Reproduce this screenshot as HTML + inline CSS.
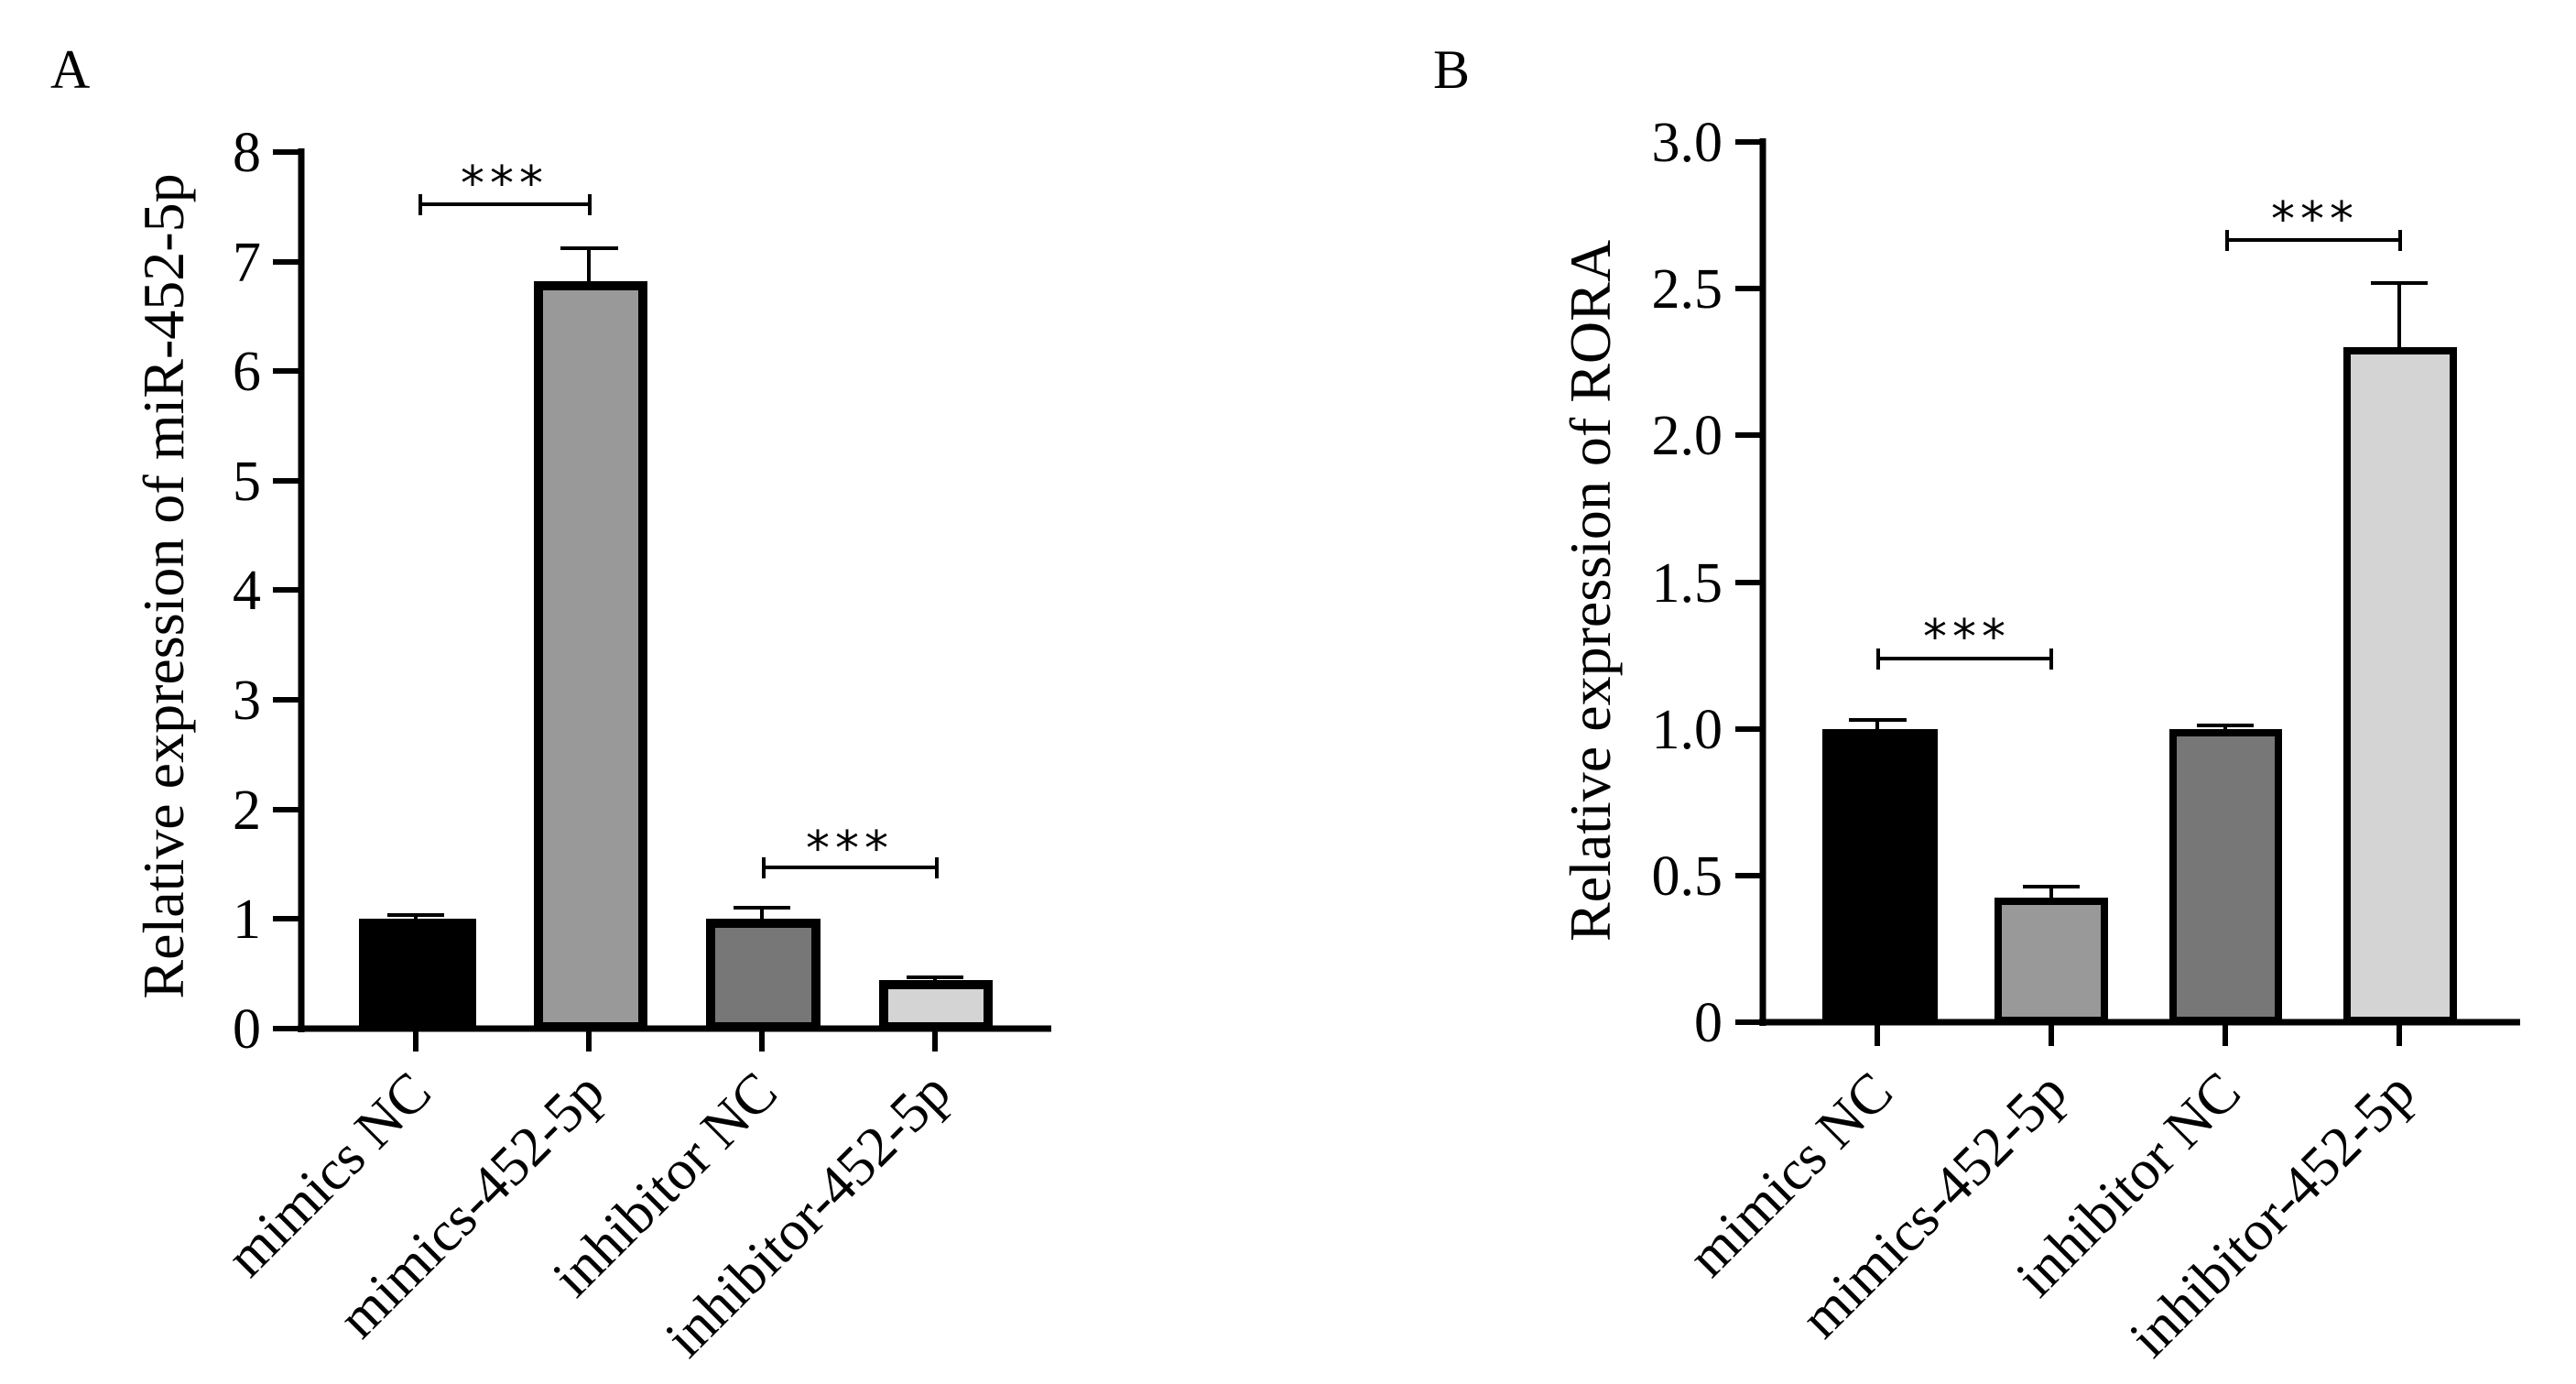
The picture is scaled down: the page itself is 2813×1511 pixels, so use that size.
<!DOCTYPE html>
<html><head><meta charset="utf-8"><style>html,body{margin:0;padding:0;background:#fff}svg{display:block}text{font-family:"Liberation Serif","Times New Roman",serif}</style></head>
<body>
<svg width="2813" height="1511" viewBox="0 0 2813 1511" xmlns="http://www.w3.org/2000/svg" fill="#000">
<rect width="2813" height="1511" fill="#fff"/>
<!-- Panel A -->
<text x="55" y="96" font-size="60">A</text>
<text transform="translate(200,640) rotate(-90)" text-anchor="middle" font-size="64">Relative expression of miR-452-5p</text>
<g stroke="#000" stroke-width="7">
<line x1="329" y1="162" x2="329" y2="1127"/>
<line x1="325" y1="1123" x2="1148" y2="1123"/>
</g>
<g stroke="#000" stroke-width="6">
<line x1="298" y1="166" x2="329" y2="166"/><line x1="298" y1="286" x2="329" y2="286"/><line x1="298" y1="405" x2="329" y2="405"/><line x1="298" y1="525" x2="329" y2="525"/><line x1="298" y1="644" x2="329" y2="644"/><line x1="298" y1="764" x2="329" y2="764"/><line x1="298" y1="884" x2="329" y2="884"/><line x1="298" y1="1003" x2="329" y2="1003"/><line x1="298" y1="1123" x2="329" y2="1123"/>
<line x1="454" y1="1123" x2="454" y2="1148"/><line x1="643" y1="1123" x2="643" y2="1148"/><line x1="832" y1="1123" x2="832" y2="1148"/><line x1="1021" y1="1123" x2="1021" y2="1148"/>
</g>
<g font-size="62" text-anchor="end">
<text x="285" y="187">8</text><text x="285" y="307">7</text><text x="285" y="426">6</text><text x="285" y="546">5</text><text x="285" y="665">4</text><text x="285" y="785">3</text><text x="285" y="905">2</text><text x="285" y="1024">1</text><text x="285" y="1144">0</text>
</g>
<g stroke="#000" stroke-width="4">
<line x1="454" y1="999" x2="454" y2="1003"/><line x1="423" y1="999" x2="485" y2="999"/>
<line x1="643" y1="271" x2="643" y2="310"/><line x1="612" y1="271" x2="675" y2="271"/>
<line x1="832" y1="991" x2="832" y2="1003"/><line x1="801" y1="991" x2="863" y2="991"/>
<line x1="1021" y1="1067" x2="1021" y2="1074"/><line x1="990" y1="1067" x2="1052" y2="1067"/>
</g>
<g stroke="#000" stroke-width="10">
<rect x="397" y="1008" width="118" height="113" fill="#000"/>
<rect x="588" y="312" width="114" height="809" fill="#999"/>
<rect x="776" y="1008" width="115" height="113" fill="#777"/>
<rect x="965" y="1075" width="114" height="46" fill="#d4d4d4"/>
</g>
<g stroke="#000" stroke-width="4">
<line x1="459" y1="223" x2="644" y2="223"/><line x1="459" y1="212" x2="459" y2="235"/><line x1="644" y1="212" x2="644" y2="235"/>
<line x1="834" y1="947" x2="1023" y2="947"/><line x1="834" y1="936" x2="834" y2="959"/><line x1="1023" y1="936" x2="1023" y2="959"/>
</g>
<g font-size="52" text-anchor="middle">
<text x="551" y="218" letter-spacing="6" style="font-family:'DejaVu Sans',sans-serif">***</text>
<text x="928" y="944" letter-spacing="6" style="font-family:'DejaVu Sans',sans-serif">***</text>
</g>
<g font-size="62" text-anchor="end">
<text transform="translate(474,1196) rotate(-45)">mimics NC</text>
<text transform="translate(663,1196) rotate(-45)">mimics-452-5p</text>
<text transform="translate(852,1196) rotate(-45)">inhibitor NC</text>
<text transform="translate(1041,1196) rotate(-45)">inhibitor-452-5p</text>
</g>
<!-- Panel B -->
<text x="1565" y="96" font-size="60">B</text>
<text transform="translate(1758,645) rotate(-90)" text-anchor="middle" font-size="64">Relative expression of RORA</text>
<g stroke="#000" stroke-width="7">
<line x1="1925" y1="151" x2="1925" y2="1120"/>
<line x1="1921" y1="1116" x2="2752" y2="1116"/>
</g>
<g stroke="#000" stroke-width="6">
<line x1="1895" y1="155" x2="1925" y2="155"/><line x1="1895" y1="315" x2="1925" y2="315"/><line x1="1895" y1="475" x2="1925" y2="475"/><line x1="1895" y1="636" x2="1925" y2="636"/><line x1="1895" y1="796" x2="1925" y2="796"/><line x1="1895" y1="956" x2="1925" y2="956"/><line x1="1895" y1="1116" x2="1925" y2="1116"/>
<line x1="2050" y1="1116" x2="2050" y2="1142"/><line x1="2240" y1="1116" x2="2240" y2="1142"/><line x1="2430" y1="1116" x2="2430" y2="1142"/><line x1="2620" y1="1116" x2="2620" y2="1142"/>
</g>
<g font-size="62" text-anchor="end">
<text x="1881" y="176">3.0</text><text x="1881" y="336">2.5</text><text x="1881" y="496">2.0</text><text x="1881" y="657">1.5</text><text x="1881" y="817">1.0</text><text x="1881" y="977">0.5</text><text x="1881" y="1137">0</text>
</g>
<g stroke="#000" stroke-width="4">
<line x1="2050" y1="786" x2="2050" y2="796"/><line x1="2019" y1="786" x2="2082" y2="786"/>
<line x1="2240" y1="968" x2="2240" y2="984"/><line x1="2209" y1="968" x2="2271" y2="968"/>
<line x1="2430" y1="792" x2="2430" y2="796"/><line x1="2399" y1="792" x2="2461" y2="792"/>
<line x1="2620" y1="309" x2="2620" y2="383"/><line x1="2589" y1="309" x2="2651" y2="309"/>
</g>
<g stroke="#000" stroke-width="8">
<rect x="1994" y="800" width="118" height="314" fill="#000"/>
<rect x="2182" y="984" width="116" height="130" fill="#999"/>
<rect x="2373" y="800" width="115" height="314" fill="#777"/>
<rect x="2563" y="383" width="116" height="731" fill="#d4d4d4"/>
</g>
<g stroke="#000" stroke-width="4">
<line x1="2051" y1="719" x2="2240" y2="719"/><line x1="2051" y1="708" x2="2051" y2="731"/><line x1="2240" y1="708" x2="2240" y2="731"/>
<line x1="2432" y1="262" x2="2621" y2="262"/><line x1="2432" y1="251" x2="2432" y2="274"/><line x1="2621" y1="251" x2="2621" y2="274"/>
</g>
<g font-size="52" text-anchor="middle">
<text x="2148" y="713" letter-spacing="6" style="font-family:'DejaVu Sans',sans-serif">***</text>
<text x="2528" y="257" letter-spacing="6" style="font-family:'DejaVu Sans',sans-serif">***</text>
</g>
<g font-size="62" text-anchor="end">
<text transform="translate(2070,1196) rotate(-45)">mimics NC</text>
<text transform="translate(2260,1196) rotate(-45)">mimics-452-5p</text>
<text transform="translate(2450,1196) rotate(-45)">inhibitor NC</text>
<text transform="translate(2640,1196) rotate(-45)">inhibitor-452-5p</text>
</g>
</svg>
</body></html>
